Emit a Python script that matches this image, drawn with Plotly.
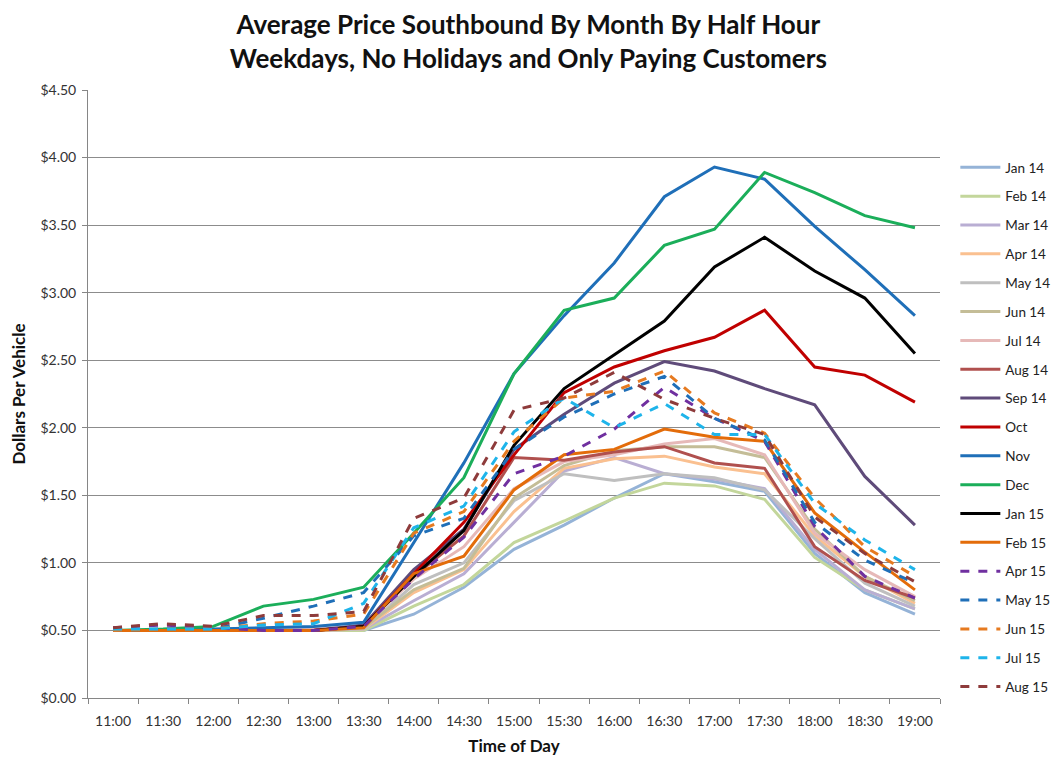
import plotly.graph_objects as go

times = ["11:00","11:30","12:00","12:30","13:00","13:30","14:00","14:30","15:00",
         "15:30","16:00","16:30","17:00","17:30","18:00","18:30","19:00"]

jan14 = [0.50,0.50,0.50,0.50,0.50,0.50,0.62,0.82,1.10,1.28,1.48,1.66,1.60,1.53,1.07,0.78,0.62]
feb14 = [0.50,0.50,0.50,0.50,0.50,0.50,0.68,0.84,1.15,1.31,1.48,1.59,1.57,1.47,1.04,0.80,0.66]
mar14 = [0.50,0.50,0.50,0.50,0.50,0.51,0.72,0.92,1.30,1.68,1.78,1.66,1.62,1.55,1.10,0.80,0.66]
apr14 = [0.50,0.50,0.50,0.50,0.50,0.51,0.78,0.95,1.38,1.70,1.77,1.79,1.71,1.66,1.20,0.90,0.70]
may14 = [0.50,0.50,0.50,0.50,0.50,0.51,0.84,1.00,1.46,1.66,1.61,1.66,1.63,1.54,1.18,0.85,0.68]
jun14 = [0.50,0.50,0.50,0.50,0.50,0.52,0.80,0.96,1.48,1.72,1.83,1.86,1.86,1.78,1.25,0.90,0.72]
jul14 = [0.50,0.50,0.50,0.50,0.51,0.53,0.88,1.12,1.55,1.75,1.80,1.88,1.92,1.80,1.22,0.95,0.75]
aug14 = [0.50,0.50,0.50,0.50,0.50,0.53,0.90,1.20,1.78,1.76,1.82,1.86,1.74,1.70,1.12,0.87,0.74]
sep14 = [0.50,0.50,0.50,0.50,0.50,0.54,0.95,1.25,1.84,2.10,2.33,2.49,2.42,2.29,2.17,1.64,1.28]
oct14 = [0.50,0.50,0.50,0.50,0.50,0.53,0.92,1.30,1.80,2.26,2.45,2.57,2.67,2.87,2.45,2.39,2.19]
nov14 = [0.50,0.50,0.51,0.52,0.53,0.56,1.15,1.74,2.40,2.83,3.22,3.71,3.93,3.84,3.49,3.17,2.83]
dec14 = [0.50,0.51,0.53,0.68,0.73,0.82,1.22,1.63,2.40,2.87,2.96,3.35,3.47,3.89,3.74,3.57,3.48]
jan15 = [0.50,0.50,0.50,0.50,0.50,0.53,0.90,1.24,1.87,2.29,2.54,2.79,3.19,3.41,3.16,2.96,2.55]
feb15 = [0.50,0.50,0.50,0.50,0.50,0.52,0.92,1.05,1.54,1.80,1.84,1.99,1.93,1.90,1.37,1.08,0.80]
apr15 = [0.52,0.54,0.52,0.50,0.50,0.53,0.88,1.19,1.66,1.79,1.99,2.30,2.07,1.90,1.27,0.90,0.74]
may15 = [0.50,0.51,0.51,0.59,0.68,0.78,1.20,1.33,1.84,2.08,2.25,2.38,2.07,1.91,1.30,1.02,0.85]
jun15 = [0.50,0.51,0.51,0.55,0.57,0.62,1.22,1.38,1.90,2.22,2.27,2.42,2.11,1.96,1.48,1.12,0.90]
jul15 = [0.51,0.51,0.51,0.54,0.55,0.70,1.26,1.42,1.97,2.22,2.00,2.18,1.95,1.95,1.44,1.17,0.95]
aug15 = [0.52,0.55,0.53,0.61,0.61,0.64,1.33,1.48,2.13,2.22,2.41,2.21,2.07,1.95,1.34,1.07,0.86]

series = [
    ("Jan 14", jan14, "#95B3D7", "solid"),
    ("Feb 14", feb14, "#C3D69B", "solid"),
    ("Mar 14", mar14, "#B9AED3", "solid"),
    ("Apr 14", apr14, "#FAC090", "solid"),
    ("May 14", may14, "#BFBFBF", "solid"),
    ("Jun 14", jun14, "#C4BD97", "solid"),
    ("Jul 14", jul14, "#E6B9B8", "solid"),
    ("Aug 14", aug14, "#B0504E", "solid"),
    ("Sep 14", sep14, "#5F4B7A", "solid"),
    ("Oct", oct14, "#C00000", "solid"),
    ("Nov", nov14, "#1F6FB8", "solid"),
    ("Dec", dec14, "#1BAE5A", "solid"),
    ("Jan 15", jan15, "#000000", "solid"),
    ("Feb 15", feb15, "#E36C0A", "solid"),
    ("Apr 15", apr15, "#7030A0", "dash"),
    ("May 15", may15, "#1F6FB8", "dash"),
    ("Jun 15", jun15, "#E67A20", "dash"),
    ("Jul 15", jul15, "#1EB4EA", "dash"),
    ("Aug 15", aug15, "#8E3B3B", "dash"),
]

fig = go.Figure()
for i, (name, vals, color, dash) in enumerate(series):
    fig.add_trace(go.Scatter(
        x=times, y=vals, name=name, mode="lines",
        line=dict(color=color, width=3, dash=dash),
        legendgroup=f"g{i}",
    ))

font_family = "Lato, 'Open Sans', sans-serif"
fig.update_layout(
    width=1064, height=761,
    margin=dict(l=80, r=132, t=82, b=71, autoexpand=False),
    paper_bgcolor="white", plot_bgcolor="white",
    font=dict(family=font_family, color="#222222"),
    title=dict(
        text="<b>Average Price Southbound By Month By Half Hour<br>Weekdays, No Holidays and Only Paying Customers</b>",
        x=0.489, xanchor="center", xref="container",
        yref="container", y=0.966, yanchor="top",
        font=dict(size=26, color="#111111", family=font_family),
    ),
    showlegend=True,
    legend=dict(
        x=1.018, xanchor="left", y=0.898, yanchor="top",
        font=dict(size=13.5, color="#222222"),
        tracegroupgap=8.3,
        itemwidth=40,
        bgcolor="rgba(0,0,0,0)",
    ),
)
fig.update_xaxes(
    type="category", range=[-0.5, 16.5], automargin=False,
    showgrid=False, showline=True, linecolor="#868686", linewidth=1,
    ticks="outside", ticklen=5, tickcolor="#868686", tickson="boundaries",
    ticklabelstandoff=10,
    tickfont=dict(size=14, color="#333333"),
    title=dict(text="<b>Time of Day</b>", font=dict(size=17, color="#111111"), standoff=12),
)
fig.update_yaxes(
    range=[0, 4.5], dtick=0.5, tickformat="$.2f", automargin=False,
    showgrid=True, gridcolor="#8C8C8C", gridwidth=1,
    showline=True, linecolor="#868686", linewidth=1,
    ticks="outside", ticklen=5, tickcolor="#868686",
    ticklabelstandoff=3,
    tickfont=dict(size=14, color="#333333"),
    zeroline=False,
    title=dict(text="<b>Dollars Per Vehicle</b>", font=dict(size=17, color="#111111"), standoff=14),
)

fig.write_html("out.html")
